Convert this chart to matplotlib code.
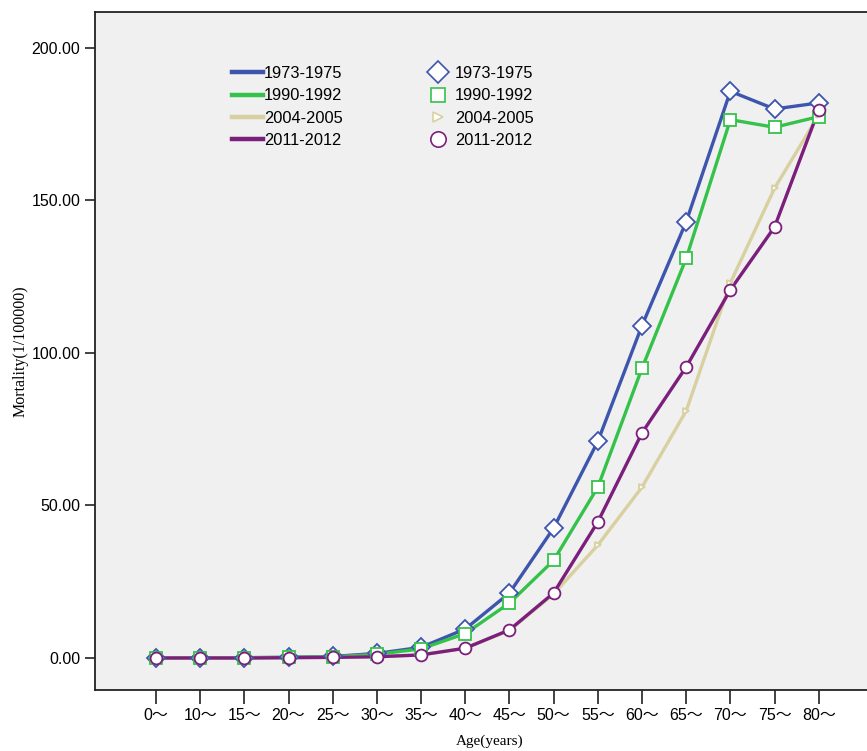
import matplotlib
matplotlib.use("Agg")
import matplotlib.pyplot as plt
from matplotlib.lines import Line2D

# age groups and mortality (1/100000)
ages = ["0", "10", "15", "20", "25", "30", "35", "40", "45", "50", "55", "60", "65", "70", "75", "80"]
periods = ["1973-1975", "1990-1992", "2004-2005", "2011-2012"]
m_1973 = [0.1, 0.1, 0.1, 0.2, 0.5, 1.5, 3.5, 9.5, 21.3, 42.6, 71.0, 109.0, 143.0, 185.8, 180.0, 182.0]
m_1990 = [0.1, 0.1, 0.1, 0.2, 0.4, 1.2, 3.0, 8.0, 18.0, 32.0, 56.0, 95.0, 131.0, 176.5, 174.0, 177.5]
m_2004 = [0.0, 0.0, 0.0, 0.1, 0.2, 0.4, 1.0, 3.2, 9.0, 21.0, 37.0, 56.0, 81.0, 123.0, 154.0, 178.0]
m_2011 = [0.0, 0.0, 0.0, 0.1, 0.2, 0.4, 1.0, 3.2, 9.2, 21.3, 44.6, 73.8, 95.4, 120.7, 141.3, 179.7]

series = [m_1973, m_1990, m_2004, m_2011]
colors = ["#3d55ad", "#35c24a", "#d8d0a0", "#7b1f7c"]
markers = ["D", "s", ">", "o"]
msizes = [9, 8, 5, 8.5]

plt.rcParams['font.family'] = ['Liberation Sans', 'Noto Sans CJK SC']

fig = plt.figure(figsize=(8.67, 7.51), dpi=100)
ax = fig.add_axes([95 / 867, 61 / 751, 790 / 867, 678 / 751])
ax.set_facecolor("#f0f0f0")

x = list(range(len(ages)))
for vals, c in zip(series, colors):
    ax.plot(x, vals, color=c, lw=2.4, zorder=2, solid_capstyle="round")
for vals, c, mk, ms in zip(series, colors, markers, msizes):
    ax.plot(x, vals, ls="none", marker=mk, ms=ms, mfc="white", mec=c, mew=1.3, zorder=3)

ax.set_xlim(-1.38, 16.5)
ax.set_ylim(-10.5, 211.8)
ax.set_xticks(x)
ax.set_xticklabels([a + "～" for a in ages], fontsize=11.5)
ax.set_yticks([0, 50, 100, 150, 200])
ax.set_yticklabels(["0.00", "50.00", "100.00", "150.00", "200.00"], fontsize=11.5)
ax.tick_params(axis="y", length=7, width=1.2, color="#222222")
ax.tick_params(axis="x", length=10, width=1.2, color="#222222", pad=3)
for s in ax.spines.values():
    s.set_linewidth(1.3)
    s.set_color("#222222")

ax.set_ylabel("Mortality(1/100000)", family="Liberation Serif", fontsize=11.5, labelpad=2)
ax.set_xlabel("Age(years)", family="Liberation Serif", fontsize=11, labelpad=8)

line_handles = [Line2D([], [], color=c, lw=3.2) for c in colors]
leg1 = ax.legend(line_handles, periods, loc="upper left", bbox_to_anchor=(0.155, 0.942),
                 frameon=False, fontsize=11.8, handlelength=1.85, handletextpad=0.1,
                 labelspacing=0.45)
ax.add_artist(leg1)
mark_handles = [Line2D([], [], ls="none", marker=mk, ms=ms * 1.3, mfc="white", mec=c, mew=1.2)
                for c, mk, ms in zip(colors, markers, msizes)]
ax.legend(mark_handles, periods, loc="upper left", bbox_to_anchor=(0.404, 0.942),
          frameon=False, fontsize=11.8, handlelength=1.1, handletextpad=0.5,
          labelspacing=0.45)

fig.savefig("out.png", dpi=100)
